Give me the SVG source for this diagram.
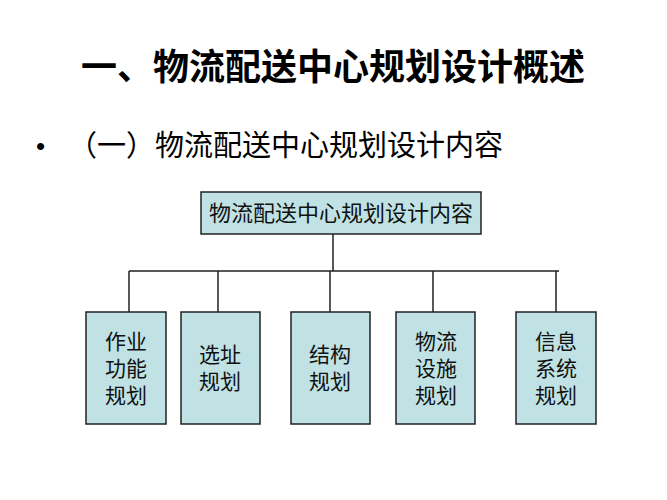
<svg xmlns="http://www.w3.org/2000/svg" width="667" height="500" viewBox="0 0 667 500">
<style>
.b{fill:#c0e2e4;stroke:#222;stroke-width:1.5}
.t{font-family:"Liberation Serif","Noto Sans CJK SC",serif;font-size:21px;fill:#111;text-anchor:middle}
.c{stroke:#222;stroke-width:1.5;fill:none}
</style>
<rect width="667" height="500" fill="#fff"/>
<text x="333" y="80" text-anchor="middle" font-family="'Noto Sans CJK SC',sans-serif" font-weight="bold" font-size="36">一、物流配送中心规划设计概述</text>
<text x="36" y="155" font-family="'Liberation Sans',sans-serif" font-size="26">•</text>
<text x="68" y="156" font-family="'Noto Sans CJK SC',sans-serif" font-size="29">（一）物流配送中心规划设计内容</text>
<g id="connectors">
<path class="c" d="M333 234V271M129 271H559M129 271V312M218 271V312M330 271V312M433 271V312M556 271V312"/>
</g>
<g id="root"><rect class="b" x="201" y="192" width="280" height="42"/><text class="t" x="341" y="221" style="font-size:22px">物流配送中心规划设计内容</text></g>
<g id="n1"><rect class="b" x="86" y="312" width="80" height="112"/><text class="t" x="126" y="349">作业</text><text class="t" x="126" y="376">功能</text><text class="t" x="126" y="403">规划</text></g>
<g id="n2"><rect class="b" x="181" y="312" width="79" height="112"/><text class="t" x="220" y="362">选址</text><text class="t" x="220" y="389">规划</text></g>
<g id="n3"><rect class="b" x="291" y="312" width="79" height="112"/><text class="t" x="330" y="362">结构</text><text class="t" x="330" y="389">规划</text></g>
<g id="n4"><rect class="b" x="396" y="312" width="79" height="112"/><text class="t" x="436" y="349">物流</text><text class="t" x="436" y="376">设施</text><text class="t" x="436" y="403">规划</text></g>
<g id="n5"><rect class="b" x="516" y="312" width="80" height="112"/><text class="t" x="556" y="349">信息</text><text class="t" x="556" y="376">系统</text><text class="t" x="556" y="403">规划</text></g>
</svg>
